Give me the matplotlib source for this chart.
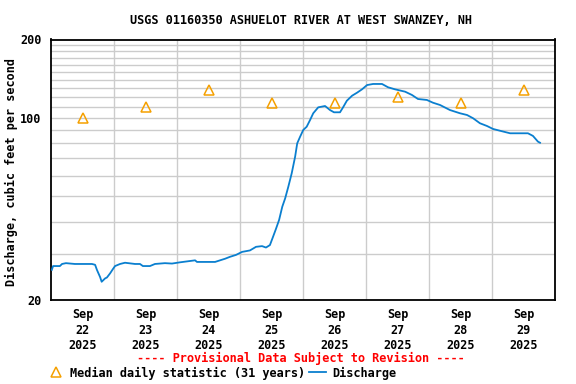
import numpy as np
import matplotlib
matplotlib.use("Agg")
from matplotlib import pyplot as plt
from matplotlib.lines import Line2D

# Discharge readings, hours after Sep 22 2025 00:00
hours = [0.3, 0.8, 3.4, 4.2, 5.7, 9.1, 13.0, 15.6, 16.8, 17.5, 18.7, 19.3, 20.6, 21.3,
         22.5, 23.6, 24.4, 26.3, 28.2, 32.0, 33.9, 35.0, 37.7, 39.6, 43.4, 46.1, 49.1,
         54.9, 55.6, 62.5, 64.4, 66.3, 68.2, 70.5, 72.8, 75.8, 78.1, 80.4, 81.9, 83.4,
         84.6, 85.7, 86.9, 88.1, 89.2, 90.4, 91.7, 93.0, 93.8, 94.9, 96.1, 97.4, 98.7,
         99.9, 101.8, 104.4, 106.3, 107.8, 110.1, 111.4, 112.7, 114.7, 116.6, 118.5,
         120.4, 122.7, 126.1, 128.4, 131.0, 134.9, 137.5, 139.8, 143.2, 145.5, 148.2,
         152.0, 155.8, 158.5, 160.8, 163.4, 166.1, 168.4, 171.0, 174.9, 181.7, 183.6,
         185.5, 186.3]
discharge = [26.1, 27.0, 27.0, 27.5, 27.7, 27.5, 27.5, 27.5, 27.3, 26.1, 24.5, 23.5, 24.2, 24.4,
             25.3, 26.3, 27.0, 27.5, 27.8, 27.5, 27.5, 27.0, 27.0, 27.5, 27.7, 27.6, 27.9,
             28.4, 28.0, 28.0, 28.4, 28.8, 29.3, 29.8, 30.6, 31.0, 32.0, 32.2, 31.8, 32.5,
             35.0, 37.5, 40.6, 45.6, 49.1, 54.4, 61.3, 71.0, 79.9, 84.7, 89.9, 92.5, 98.2,
             104.2, 109.8, 111.1, 107.2, 105.1, 105.1, 110.4, 116.4, 121.7, 125.0, 128.8,
             133.7, 135.0, 135.0, 131.1, 128.8, 126.1, 122.5, 118.2, 117.2, 114.4, 112.1,
             107.2, 104.2, 102.6, 99.7, 95.4, 93.1, 90.7, 89.3, 87.3, 87.3, 85.3,
             81.1, 80.3]

# Median daily statistic, plotted at noon of each day
median_hours = [12, 36, 60, 84, 108, 132, 156, 180]
median_vals = [100, 110, 128, 114, 114, 120, 114, 128]

day_labels = ['Sep\n22\n2025', 'Sep\n23\n2025', 'Sep\n24\n2025', 'Sep\n25\n2025',
              'Sep\n26\n2025', 'Sep\n27\n2025', 'Sep\n28\n2025', 'Sep\n29\n2025']

plt.rcParams['font.family'] = 'DejaVu Sans Mono'
plt.rcParams['font.weight'] = 'bold'

fig = plt.figure(figsize=(5.76, 3.84), dpi=100)
ax = fig.add_axes([51/576, 84/384, 504/576, 260.5/384])

ax.plot(hours, discharge, color='#0a7fcf', lw=1.3, zorder=3)
ax.plot(median_hours, median_vals, marker='^', ms=7.5, mfc='none', mec='#f5a000',
        mew=1.1, linestyle='none', zorder=4)

ax.set_yscale('log')
ax.set_ylim(20, 200)
ax.set_xlim(0, 192)

ax.set_yticks([20, 100, 200])
ax.set_yticklabels(['20', '100', '200'])
ax.set_yticks(list(range(30, 200, 10)), minor=True)
ax.yaxis.set_minor_formatter(plt.NullFormatter())

ax.set_xticks(median_hours)
ax.set_xticklabels(day_labels, fontsize=8.5, linespacing=1.25)
ax.set_xticks(list(range(24, 192, 24)), minor=True)

ax.tick_params(axis='both', which='both', length=0)
ax.tick_params(axis='y', labelsize=8.5, pad=7)
ax.tick_params(axis='x', pad=6)

ax.grid(which='minor', color='#cccccc', lw=1)
ax.grid(which='major', axis='y', color='#cccccc', lw=1)
for s in ax.spines.values():
    s.set_linewidth(1.3)

fig.text(0.5 * (133 + 470) / 576, 1 - 20 / 384,
         'USGS 01160350 ASHUELOT RIVER AT WEST SWANZEY, NH',
         ha='center', va='center', fontsize=8.6)
fig.text(11 / 576, 1 - 172 / 384, 'Discharge, cubic feet per second',
         rotation=90, ha='center', va='center', fontsize=8.5)
fig.text(301 / 576, 1 - 358 / 384, '---- Provisional Data Subject to Revision ----',
         color='red', ha='center', va='center', fontsize=8.6)

# legend
fig.add_artist(Line2D([56 / 576], [1 - 372 / 384], marker='^', ms=7.5, mfc='none',
                      mec='#f5a000', mew=1.1, transform=fig.transFigure))
fig.text(70 / 576, 1 - 373 / 384, 'Median daily statistic (31 years)',
         ha='left', va='center', fontsize=8.6)
fig.add_artist(Line2D([309 / 576, 326 / 576], [1 - 372 / 384, 1 - 372 / 384],
                      color='#0a7fcf', lw=1.3, transform=fig.transFigure))
fig.text(332 / 576, 1 - 373 / 384, 'Discharge', ha='left', va='center', fontsize=8.6)

fig.savefig('out.png', dpi=100)
